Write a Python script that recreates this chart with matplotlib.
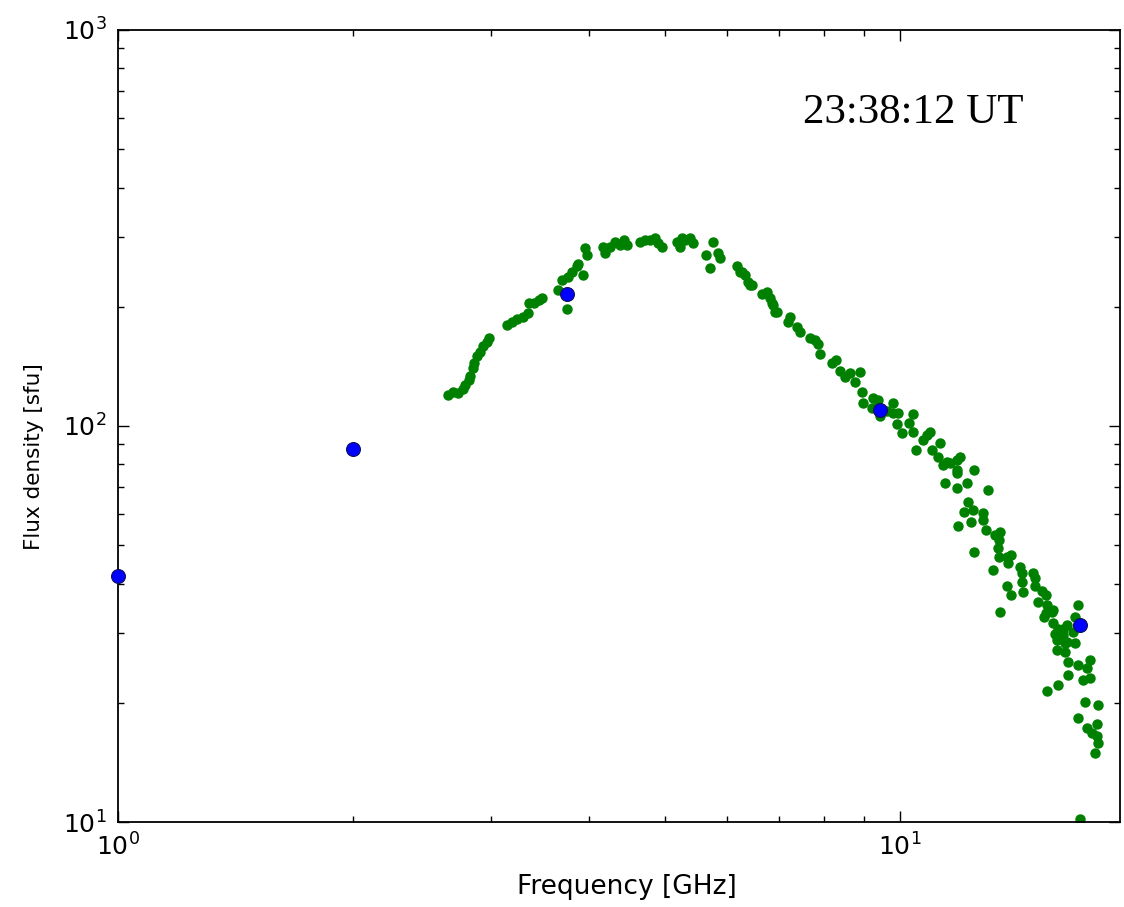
import matplotlib
matplotlib.use('Agg')
import matplotlib.pyplot as plt
from matplotlib.ticker import NullFormatter

# ── 单点观测 (蓝点) ──
freq_pts = [1.0, 2.0, 3.75, 9.43, 17.0]
flux_pts = [41.8, 87.5, 215, 110, 31.4]

# ── 频谱仪数据 (绿点) ──
freq_spec = [
    2.64, 2.68, 2.72, 2.76, 2.78, 2.81, 2.82, 2.84, 2.85, 2.88, 2.90, 2.93, 2.96, 2.98,
    3.14, 3.19, 3.24, 3.29, 3.34, 3.35, 3.40, 3.45, 3.48, 3.65, 3.75, 3.70, 3.76, 3.81,
    3.86, 3.87, 3.93, 3.95, 3.98, 4.17, 4.19,
    4.25, 4.32, 4.38, 4.44, 4.48, 4.65, 4.72, 4.79, 4.86, 4.90, 4.96, 5.18, 5.26, 5.31,
    5.39, 5.44, 5.23, 5.77, 5.65, 5.71, 5.84, 5.89, 6.18, 6.24, 6.33, 6.39, 6.47, 6.66,
    6.76, 6.82, 6.88, 6.92,
    6.28, 6.43, 6.86, 6.96, 7.23, 7.19, 7.38, 7.45, 7.67, 7.79, 7.85, 7.90, 8.18, 8.27,
    8.38, 8.51, 8.63, 8.76, 8.89, 8.94, 9.24,
    8.97, 9.36, 9.21, 9.43, 9.63, 9.80, 9.80, 9.94, 9.91, 10.06, 10.37, 10.25, 10.37,
    10.48, 10.70, 10.83, 10.92, 10.99, 11.25, 11.18, 11.35, 11.49, 11.82, 11.93, 11.82,
    11.42, 11.82, 12.18, 12.44, 12.96,
    11.59, 11.82, 12.22, 12.39, 12.05, 12.77, 12.74, 12.33, 11.86, 12.88, 13.21, 13.43,
    13.36, 13.32, 12.44, 13.36, 13.71, 13.86, 13.74, 14.24, 14.33, 14.80, 14.89, 13.15,
    14.33, 14.37, 13.71, 13.86, 14.89, 15.20, 15.34, 14.98, 15.39, 15.69, 15.25, 15.34,
    13.43, 15.69, 16.02, 16.35, 16.75, 16.89, 16.16, 15.88, 16.25, 16.75,
    15.65, 15.93, 15.79, 16.16, 16.65, 16.02, 16.35, 15.88, 16.25, 16.40, 16.89, 16.40,
    17.50, 17.35, 17.50, 17.15, 15.93, 15.39, 17.25, 17.92, 16.89, 17.87, 17.35, 17.61,
    17.87, 17.92, 17.76, 16.99,
]
flux_spec = [
    120, 122, 121, 124, 127, 131, 134, 140, 144, 150, 154, 159, 163, 167,
    180, 183, 186, 188, 193, 204, 205, 208, 210, 220, 197, 234, 238, 245,
    254, 257, 241, 282, 270, 283, 273,
    283, 292, 287, 295, 287, 292, 295, 295, 298, 290, 283, 292, 298, 295,
    298, 290, 283, 292, 270, 251, 273, 266, 253, 245, 241, 231, 227, 215,
    218, 210, 202, 194,
    245, 227, 205, 194, 188, 183, 178, 173, 167, 165, 161, 152, 144, 147,
    138, 133, 136, 129, 137, 122, 118,
    114, 116, 111, 106, 109, 114, 108, 108, 101, 96, 107, 102, 96.6,
    87.0, 92.2, 94.9, 96.6, 87.0, 90.6, 83.5, 79.8, 81.2, 82.1, 83.5, 77.4,
    71.8, 69.7, 71.8, 77.4, 68.9,
    80.7, 76.1, 64.2, 61.4, 60.7, 60.4, 57.9, 57.2, 55.9, 54.6, 53.1, 53.9,
    51.5, 49.2, 48.0, 46.7, 46.7, 47.2, 45.1, 44.0, 42.5, 42.5, 41.3, 43.3,
    40.3, 38.1, 39.4, 37.5, 39.4, 38.3, 37.5, 36.0, 35.4, 34.3, 33.0, 33.8,
    33.9, 31.8, 30.5, 31.4, 33.0, 35.4, 29.6, 28.8, 28.3, 28.3,
    33.9, 30.8, 29.9, 30.8, 30.2, 29.3, 28.5, 27.2, 26.8, 25.3, 24.9, 23.5,
    25.7, 24.5, 23.1, 22.8, 22.2, 21.4, 20.1, 19.8, 18.3, 17.7, 17.3, 16.8,
    16.5, 15.8, 14.9, 10.2,
]

time_label = '23:38:12 UT'

fig = plt.figure(figsize=(11.24, 9.07), dpi=100, facecolor='white')
ax = fig.add_axes([0.105, 0.0937, 0.8915, 0.8733])

ax.plot(freq_spec, flux_spec, 'o', color=(0, 0.5, 0), mec=(0, 0.5, 0), ms=6.5, zorder=2)
ax.plot(freq_pts, flux_pts, 'o', color='blue', mec='#10105a', mew=0.8, ms=10, zorder=3,
        clip_on=False)

ax.set_xscale('log')
ax.set_yscale('log')
ax.set_xlim(1, 19.1)
ax.set_ylim(10, 1000)

ax.tick_params(which='both', direction='in', top=True, right=True, labelsize=18)
ax.tick_params(which='major', length=8, width=1)
ax.tick_params(which='minor', length=4, width=1)
ax.xaxis.set_minor_formatter(NullFormatter())
ax.yaxis.set_minor_formatter(NullFormatter())
ax.tick_params(axis='x', pad=8)
ax.tick_params(axis='y', pad=8)
for sp in ax.spines.values():
    sp.set_linewidth(1.3)

ax.set_xlabel('Frequency [GHz]', fontsize=19)
ax.set_ylabel('Flux density [sfu]', fontsize=15.5)
ax.xaxis.set_label_coords(0.508, -0.066)
ax.yaxis.set_label_coords(-0.074, 0.461)
ax.text(0.684, 0.882, time_label, transform=ax.transAxes, fontsize=31,
        family='Liberation Serif', va='baseline')

fig.savefig('out.png', dpi=100, facecolor='white')
plt.close(fig)
